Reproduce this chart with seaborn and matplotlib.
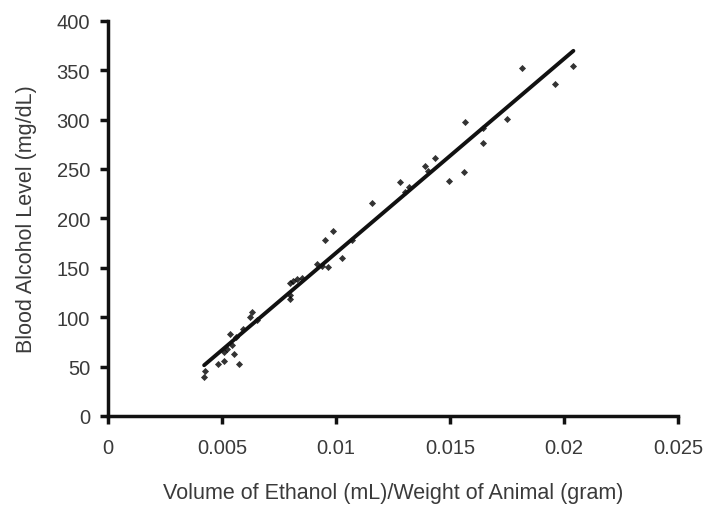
import pandas as pd
import matplotlib
matplotlib.use('Agg')
import matplotlib.pyplot as plt
import seaborn as sns

# Ethanol dose per body weight vs measured blood alcohol
dose = [0.00421, 0.00425, 0.00480, 0.00506, 0.00576, 0.00506, 0.00520, 0.00542,
        0.00550, 0.00535, 0.00560, 0.00590, 0.00623, 0.00632, 0.00652, 0.00798,
        0.00798, 0.00813, 0.00827, 0.00798, 0.00850, 0.00915, 0.00937, 0.00966,
        0.00952, 0.00988, 0.01025, 0.01069, 0.01157, 0.01281, 0.01303, 0.01320,
        0.01390, 0.01405, 0.01434, 0.01497, 0.01561, 0.01566, 0.01643, 0.01643,
        0.01748, 0.01817, 0.01960, 0.02041]
bal = [39, 45, 53, 56, 53, 65, 68, 72,
       63, 83, 80, 88, 100, 105, 97, 122,
       118, 137, 139, 135, 140, 154, 152, 151,
       178, 187, 160, 178, 216, 237, 227, 232,
       253, 248, 261, 238, 247, 298, 291, 276,
       301, 352, 336, 354]

x_ticks = [0, 0.005, 0.01, 0.015, 0.02, 0.025]
x_tick_labels = ['0', '0.005', '0.01', '0.015', '0.02', '0.025']
y_ticks = [0, 50, 100, 150, 200, 250, 300, 350, 400]

df = pd.DataFrame({'dose': dose, 'bal': bal})

sns.set_style('white')
plt.rcParams['font.family'] = ['Liberation Sans', 'DejaVu Sans']

fig = plt.figure(figsize=(7.07, 5.06), dpi=100)
ax = fig.add_axes([0.153, 0.176, 0.806, 0.781])

sns.regplot(data=df, x='dose', y='bal', ax=ax, ci=None,
            marker='D', color='black',
            scatter_kws={'s': 13, 'linewidths': 0},
            line_kws={'linewidth': 2.8, 'color': '#111111'})

ax.set_xlim(0, 0.025)
ax.set_ylim(0, 400)
ax.set_xticks(x_ticks)
ax.set_xticklabels(x_tick_labels)
ax.set_yticks(y_ticks)

sns.despine(ax=ax)
for s in ['left', 'bottom']:
    ax.spines[s].set_linewidth(2.5)
    ax.spines[s].set_color('#111111')

ax.tick_params(axis='both', direction='out', length=6, width=2.5, color='#111111',
               labelsize=14.5, labelcolor='#3a3a3a', left=True, bottom=True)
ax.tick_params(axis='x', pad=10)
ax.tick_params(axis='y', pad=7)

ax.set_xlabel('Volume of Ethanol (mL)/Weight of Animal (gram)', fontsize=15.5,
              color='#3a3a3a', labelpad=18)
ax.set_ylabel('Blood Alcohol Level (mg/dL)', fontsize=15.5, color='#3a3a3a', labelpad=14)

fig.savefig('out.png', dpi=100, facecolor='white')
